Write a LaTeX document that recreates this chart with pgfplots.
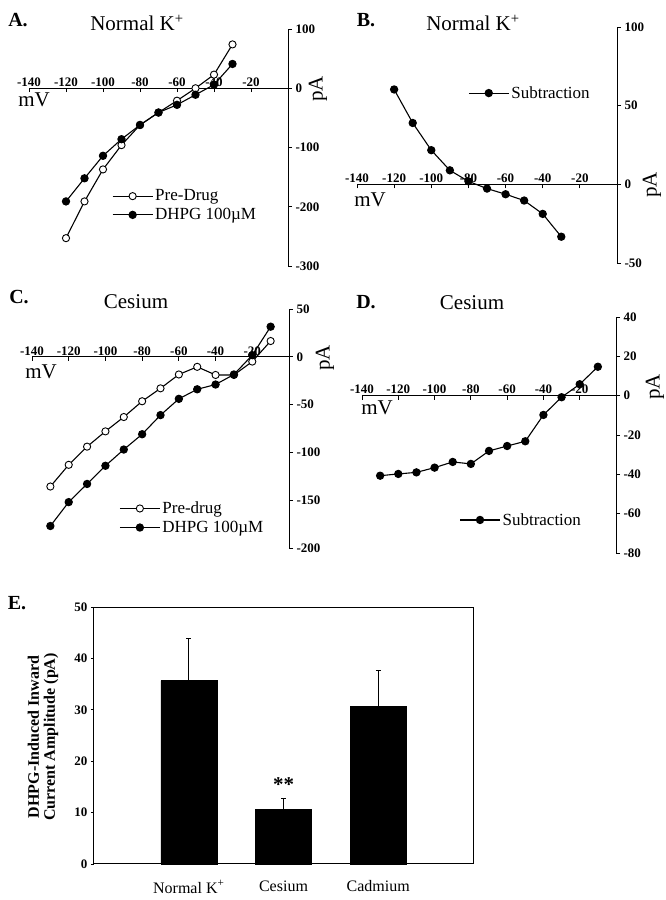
\documentclass[border=0pt]{standalone}
\usepackage{pgfplots}
\pgfplotsset{compat=1.18}
\usepackage{fontspec}
\setmainfont{Liberation Serif}
\begin{document}
\begin{tikzpicture}
\path[use as bounding box] (0pt,0pt) rectangle (666pt,900pt);
\pgfplotsset{
  iv/.style={
    scale only axis,
    anchor=south west,
    axis x line=middle,
    axis y line=right,
    axis line style={-, line width=1pt},
    xmin=-140, xmax=0,
    xtick={-140,-120,...,-20},
    /pgf/number format/assume math mode=true,
    ticklabel style={font=\bfseries\fontsize{13}{14}\selectfont},
    xticklabel style={anchor=south, yshift=2pt},
    tick align=outside,
    major tick length=4pt,
    tick style={line width=0.9pt, black},
    legend cell align=left,
    legend style={draw=none, fill=none, anchor=west, inner sep=0pt, row sep=2pt,
      font=\fontsize{17}{18}\selectfont, nodes={inner sep=2pt}},
    legend image code/.code={\draw[mark repeat=2,mark phase=2] plot coordinates {(0pt,0pt) (20pt,0pt) (40pt,0pt)};},
    clip=false,
  },
  openc/.style={black, line width=1.1pt, mark=*, mark size=3.6pt, mark options={fill=white, draw=black, line width=0.9pt}},
  fullc/.style={black, line width=1.1pt, mark=*, mark size=3.6pt, mark options={fill=black, draw=black}},
}
% ---------------- Panel A
\begin{axis}[iv, at={(29pt,634pt)}, width=259pt, height=237pt,
  ymin=-300, ymax=100, ytick={-300,-200,-100,0,100},
  legend style={at={(0.32,0.255)}}]
\addplot[openc] coordinates {(-120,-253) (-110,-191) (-100,-137) (-90,-96) (-80,-62) (-70,-41) (-60,-21) (-50,0) (-40,23) (-30,74)};
\addlegendentry{Pre-Drug}
\addplot[fullc] coordinates {(-120,-191) (-110,-152) (-100,-114) (-90,-86) (-80,-62) (-70,-41) (-60,-28) (-50,-11) (-40,6) (-30,41)};
\addlegendentry{DHPG 100\textmu M}
\end{axis}
% ---------------- Panel B
\begin{axis}[iv, at={(357pt,637pt)}, width=260pt, height=236pt,
  ymin=-50, ymax=100, ytick={-50,0,50,100},
  legend style={at={(0.427,0.72)}}]
\addplot[fullc] coordinates {(-120,60.3) (-110,39) (-100,21.7) (-90,8.9) (-80,1.9) (-70,-2.7) (-60,-6.3) (-50,-10.3) (-40,-18.8) (-30,-33.3)};
\addlegendentry{Subtraction}
\end{axis}
% ---------------- Panel C
\begin{axis}[iv, at={(32pt,352pt)}, width=257pt, height=239pt,
  ymin=-200, ymax=50, ytick={-200,-150,-100,-50,0,50},
  legend style={at={(0.339,0.126)}}]
\addplot[openc] coordinates {(-130,-135.7) (-120,-113) (-110,-94) (-100,-78) (-90,-63) (-80,-46.5) (-70,-33) (-60,-18.5) (-50,-10.5) (-40,-19) (-30,-19) (-20,-5) (-10,16.5)};
\addlegendentry{Pre-drug}
\addplot[fullc] coordinates {(-130,-177) (-120,-152) (-110,-133) (-100,-114) (-90,-97) (-80,-81) (-70,-61) (-60,-44) (-50,-34) (-40,-29) (-30,-18.5) (-20,1.7) (-10,31.5)};
\addlegendentry{DHPG 100\textmu M}
\end{axis}
% ---------------- Panel D
\begin{axis}[iv, at={(362pt,347pt)}, width=254pt, height=236pt,
  ymin=-80, ymax=40, ytick={-80,-60,...,40},
  legend style={at={(0.383,0.14)}}]
\addplot[fullc] coordinates {(-130,-40.7) (-120,-39.8) (-110,-39) (-100,-36.6) (-90,-33.7) (-80,-34.7) (-70,-28.1) (-60,-25.6) (-50,-23.2) (-40,-9.8) (-30,-0.8) (-20,5.8) (-10,14.7)};
\addlegendentry{Subtraction}
\end{axis}
% ---------------- Panel E
\begin{axis}[scale only axis, anchor=south west, at={(94pt,36pt)}, width=379pt, height=257pt,
  xmin=0, xmax=4, ymin=0, ymax=50, ytick={0,10,...,50},
  xtick={1,2,3}, xticklabels={Normal K\textsuperscript{+},Cesium,Cadmium},
  xtick style={draw=none},
  ytick pos=left, tick align=outside, major tick length=3pt,
  tick style={line width=0.9pt, black},
  axis line style={line width=1pt},
  /pgf/number format/assume math mode=true,
  yticklabel style={font=\bfseries\fontsize{13}{14}\selectfont},
  xticklabel style={font=\fontsize{16}{17}\selectfont, yshift=-10pt},
  ybar, bar width=56pt, clip=false]
\addplot[fill=black, draw=black, error bars/.cd, y dir=plus, y explicit,
  error mark options={rotate=90, mark size=2.5pt, line width=1pt},
  error bar style={line width=1pt}]
  coordinates {(1,35.7) +- (0,8.1) (2,10.7) +- (0,2.1) (3,30.7) +- (0,6.9)};
\node[font=\bfseries\fontsize{21}{21}\selectfont, anchor=south, yshift=3pt] at (axis cs:2,12.8) {**};
\end{axis}
% ---------------- texts
\node[font=\bfseries\fontsize{20}{22}\selectfont] at (18pt,880pt) {A.};
\node[font=\fontsize{21}{23}\selectfont] at (137pt,877pt) {Normal K\textsuperscript{+}};
\node[font=\fontsize{21}{23}\selectfont] at (34pt,800pt) {mV};
\node[font=\fontsize{21}{23}\selectfont, rotate=90] at (318pt,811pt) {pA};
\node[font=\bfseries\fontsize{20}{22}\selectfont] at (366pt,880pt) {B.};
\node[font=\fontsize{21}{23}\selectfont] at (473pt,877pt) {Normal K\textsuperscript{+}};
\node[font=\fontsize{21}{23}\selectfont] at (370pt,700pt) {mV};
\node[font=\fontsize{21}{23}\selectfont, rotate=90] at (652pt,715pt) {pA};
\node[font=\bfseries\fontsize{20}{22}\selectfont] at (19pt,603pt) {C.};
\node[font=\fontsize{21}{23}\selectfont] at (136pt,598pt) {Cesium};
\node[font=\fontsize{21}{23}\selectfont] at (41pt,528pt) {mV};
\node[font=\fontsize{21}{23}\selectfont, rotate=90] at (325pt,542pt) {pA};
\node[font=\bfseries\fontsize{20}{22}\selectfont] at (366pt,598pt) {D.};
\node[font=\fontsize{21}{23}\selectfont] at (472pt,597pt) {Cesium};
\node[font=\fontsize{21}{23}\selectfont] at (377pt,492pt) {mV};
\node[font=\fontsize{21}{23}\selectfont, rotate=90] at (655pt,513pt) {pA};
\node[font=\bfseries\fontsize{20}{22}\selectfont] at (17pt,297pt) {E.};
\node[font=\bfseries\fontsize{16}{16}\selectfont, rotate=90, align=center] at (43pt,163pt) {DHPG-Induced Inward\\Current Amplitude (pA)};
\end{tikzpicture}
\end{document}
